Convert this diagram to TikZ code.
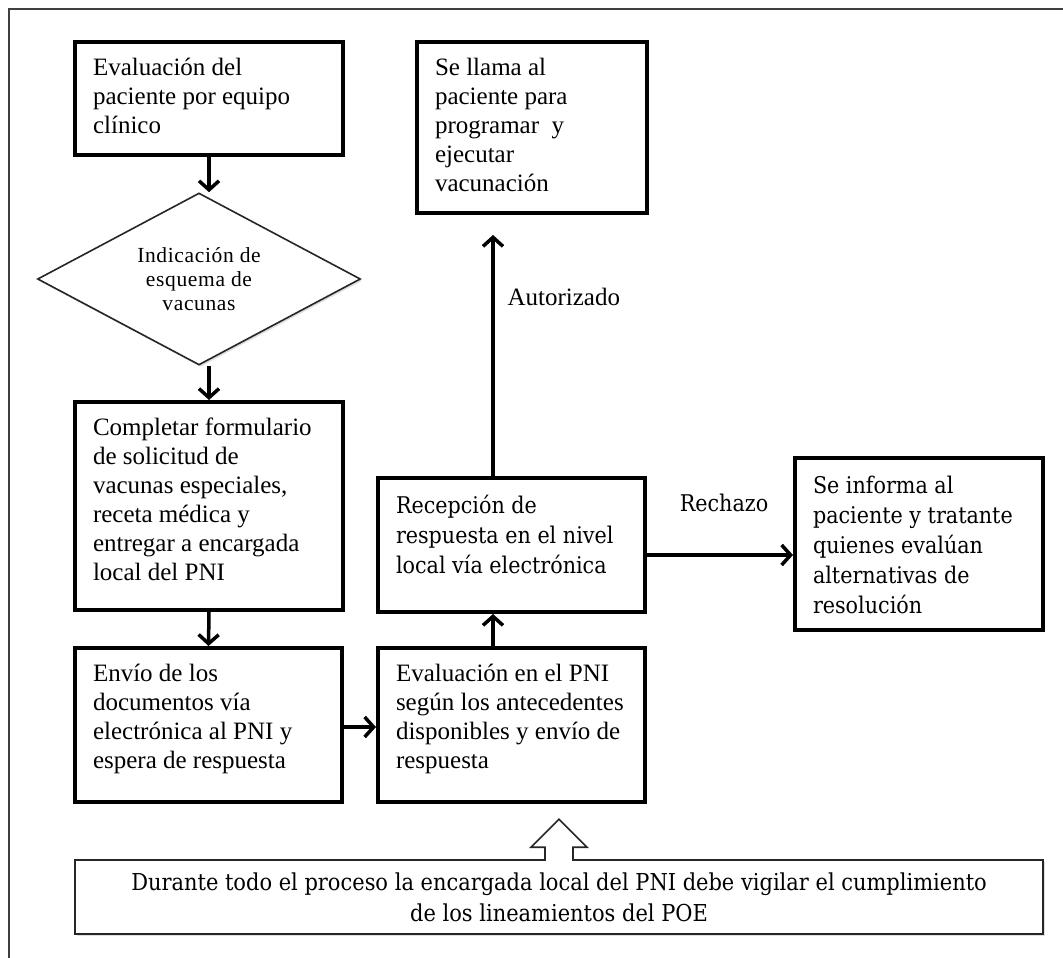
\documentclass[tikz,border=0pt]{standalone}
\usepackage{fontspec}
\setmainfont{Liberation Serif}
\newfontfamily\camb{DejaVu Serif Condensed}
\usetikzlibrary{arrows.meta,shapes.geometric,calc,shadows}
\newcommand{\bt}[4][6pt]{\parbox[c][#3][t]{#2}{\vspace*{#1}\raggedright #4}}
\begin{document}
\begin{tikzpicture}[x=1pt,y=-1pt,
  box/.style={draw, line width=4pt, fill=white, inner xsep=18pt, inner ysep=10pt,
    font=\fontsize{25}{29}\selectfont},
  cbox/.style={box, font=\camb\fontsize{23}{30}\selectfont},
  arr/.style={line width=3.5pt, -{Straight Barb[length=9pt,width=20pt]}},
  thinbox/.style={draw=black!85, line width=1.6pt, fill=white,
    drop shadow={shadow xshift=1.5pt, shadow yshift=-2pt, fill=black!25}},
  lbl/.style={font=\fontsize{25}{29}\selectfont},
  clbl/.style={font=\camb\fontsize{23}{30}\selectfont},
  frame/.style={draw=black!75, line width=1.4pt}
]
\useasboundingbox (0,0) rectangle (1063,958);
\draw[frame] (9,958) -- (9,9) -- (1063,9);

% boxes
\node[box] (b1) at (209,98.5) {\bt{232pt}{93pt}{Evaluación del\\paciente por equipo\\clínico}};
\node[thinbox, diamond, aspect=1.88, minimum width=323pt, minimum height=172pt, inner sep=0pt,
  align=center, font=\fontsize{21.5}{24}\selectfont\addfontfeature{LetterSpace=3}]
  (d1) at (199,279) {Indicación de\\esquema de\\vacunas};
\node[box] (b2) at (209,506) {\bt{232pt}{188pt}{Completar formulario\\de solicitud de\\vacunas especiales,\\receta médica y\\entregar a encargada\\local del PNI}};
\node[box] (b3) at (208.5,725) {\bt{231pt}{134pt}{Envío de los\\documentos vía\\electrónica al PNI y\\espera de respuesta}};
\node[box] (b4) at (511.5,725) {\bt{231pt}{134pt}{Evaluación en el PNI\\según los antecedentes\\disponibles y envío de\\respuesta}};
\node[cbox] (b5) at (511.5,545) {\bt[7pt]{231pt}{114pt}{Recepción de\\respuesta en el nivel\\local vía electrónica}};
\node[box] (b6) at (532,127.5) {\bt{194pt}{151pt}{Se llama al\\paciente para\\programar\ \ y\\ejecutar\\vacunación}};
\node[cbox] (b7) at (919,544) {\bt[8pt]{212pt}{152pt}{Se informa al\\paciente y tratante\\quienes evalúan\\alternativas de\\resolución}};
\node[thinbox, minimum width=968pt, minimum height=74pt, inner sep=0pt, align=center,
  font=\camb\fontsize{23.3}{31}\selectfont]
  (b8) at (559,897) {Durante todo el proceso la encargada local del PNI debe vigilar el cumplimiento\\de los lineamientos del POE};

% connectors
\draw[arr] (b1.south) -- (b1.south |- d1.north);
\draw[arr] (b2.north |- d1.south) -- (b2.north);
\draw[arr] (b2.south) -- (b3.north);
\coordinate (m34) at ($(b3.east)+(0,2)$);
\draw[arr] (m34) -- (m34 -| b4.west);
\coordinate (u45) at (493,648);
\draw[arr] (u45 |- b4.north) -- (u45 |- b5.south);
\draw[arr, shorten >=20pt] (u45 |- b5.north) -- (u45 |- b6.south);
\coordinate (r57) at ($(b5.east)+(0,10)$);
\draw[arr] (r57) -- (r57 -| b7.west);

% labels
\node[lbl, anchor=west] (la) at (504,297) {Autorizado};
\node[clbl] (lr) at (724,503) {Rechazo};

% hollow block arrow
\fill[white] ($(b8.north)+(-13.2,1.5)$) rectangle ($(b8.north)+(13.2,-13)$);
\draw[black!85, line width=1.6pt, line join=miter]
  ($(b8.north)+(-14,0.8)$) -- ++(0,-12.8) -- ++(-14,0) -- ($(b8.north)+(0,-40)$)
  -- ($(b8.north)+(28,-12)$) -- ++(-14,0) -- ++(0,12.8);
\end{tikzpicture}
\end{document}
